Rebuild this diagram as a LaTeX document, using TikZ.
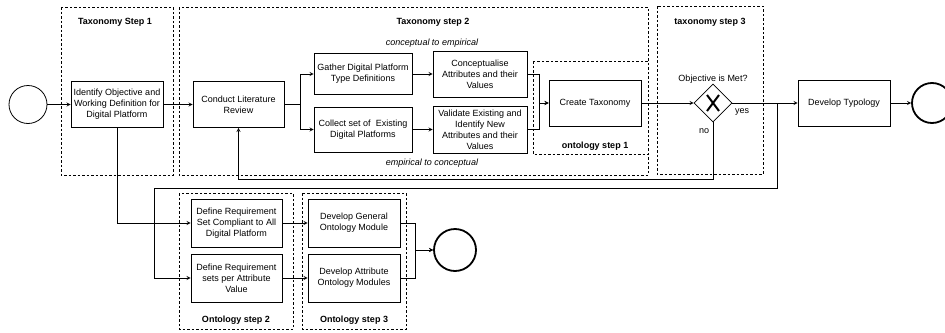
\documentclass[tikz,border=0pt]{standalone}
\usepackage{fontspec}
\setmainfont{Liberation Sans}
\usetikzlibrary{shapes.geometric}

\begin{document}
\begin{tikzpicture}[>=stealth, x=1pt, y=-1pt, line width=0.8pt,
  every node/.style={font=\fontsize{9}{11}\selectfont},
  task/.style={draw, fill=white, align=center, inner sep=1pt, minimum width=92pt, minimum height=46pt},
  group/.style={draw, dash pattern=on 2.5pt off 2pt, line width=0.6pt},
  grouptitle/.style={font=\fontsize{9}{11}\selectfont\bfseries},
  flowlabel/.style={font=\fontsize{9}{11}\selectfont\itshape},
  event/.style={draw, circle, minimum size=38pt, inner sep=0pt},
  endevent/.style={event, minimum size=40pt, line width=1.8pt},
  gateway/.style={draw, diamond, fill=white, minimum width=38pt, minimum height=38pt, inner sep=0pt}]
\useasboundingbox (0,0) rectangle (945,332);

% phases
\draw [group] (61,7) rectangle (173,175);
\draw [group] (179,7) rectangle (648,175);
\draw [group] (533,61) rectangle (648,154);
\draw [group] (657,6) rectangle (763,174);
\draw [group] (179,193) rectangle (293,329);
\draw [group] (302,193) rectangle (406,329);
\node (t1) at (115,22) [grouptitle] {Taxonomy Step 1};
\node (t2) at (433,22) [grouptitle] {Taxonomy step 2};
\node (o1) at (595,146) [grouptitle] {ontology step 1};
\node (t3) at (710,22) [grouptitle] {taxonomy step 3};
\node (o2) at (236,320) [grouptitle] {Ontology step 2};
\node (o3) at (354,320) [grouptitle] {Ontology step 3};

% taxonomy
\node (start)    at (28,104.5)    [event] {};
\node (ident)    at (117,104.5)   [task] {Identify Objective and\\Working Definition for\\Digital Platform};
\node (review)   at (238.5,104.5) [task, minimum width=91pt] {Conduct Literature\\Review};
\node (gather)   at (363,74)      [task, minimum width=98pt, minimum height=41pt] {Gather Digital Platform\\Type Definitions};
\node (collect)  at (363,129.5)   [task, minimum width=98pt, minimum height=45pt] {Collect set of \ Existing\\Digital Platforms};
\node (concept)  at (480,74)      [task, minimum width=94pt] {Conceptualise\\Attributes and their\\Values};
\node (validate) at (480,129.5)   [task, minimum width=94pt, minimum height=47pt] {Validate Existing and\\Identify New\\Attributes and their\\Values};
\node (taxo)     at (595,103)     [task] {Create Taxonomy};
\node (gate)     at (713,103)     [gateway] {};
\node (typo)     at (844,103)     [task] {Develop Typology};
\node (stop)     at (932,103)     [endevent] {};
\node (c2e) at (432,43)  [flowlabel] {conceptual to empirical};
\node (e2c) at (432,163) [flowlabel] {empirical to conceptual};
\node (met) at (713,79)  {Objective is Met?};
\node (yes) at (742,112) {yes};
\node (no)  at (704,131) {no};
\draw [line width=2pt] ([shift={(-6,-8)}]gate.center) -- ([shift={(6,8)}]gate.center);
\draw [line width=2pt] ([shift={(-6,8)}]gate.center) -- ([shift={(6,-8)}]gate.center);

% ontology
\node (reqall)  at (236.5,223) [task, minimum width=91pt, minimum height=48pt] {Define Requirement\\Set Compliant to All\\Digital Platform};
\node (reqattr) at (236.5,278) [task, minimum width=91pt, minimum height=48pt] {Define Requirement\\sets per Attribute\\Value};
\node (ontgen)  at (354,223)   [task, minimum height=48pt] {Develop General\\Ontology Module};
\node (ontattr) at (354,278)   [task, minimum height=48pt] {Develop Attribute\\Ontology Modules};
\node (stop2)   at (455,250)   [endevent, minimum size=42pt] {};

\coordinate (loop) at (713,179);
\coordinate (fork) at (777,103);
\coordinate (back) at (154,188);

\draw [->] (start) -- (ident);
\draw [->] (ident) -- (review);
\draw [->] (review.east) -- ++(16,0) |- (gather.west);
\draw [->] (review.east) -- ++(16,0) |- (collect.west);
\draw [->] (gather) -- (concept);
\draw [->] (collect) -- (validate);
\draw [->] (concept.east) -- ++(12,0) |- (taxo.west);
\draw [->] (validate.east) -- ++(12,0) |- (taxo.west);
\draw [->] (taxo) -- (gate);
\draw [->] (gate) -- (typo);
\draw [->] (typo) -- (stop);
\draw [->] (gate.south) -- (loop) -| (review.south);
\draw [->] (fork) |- (back) |- (reqattr.west);
\draw [->] (ident.south) |- (reqall.west);
\draw [->] (reqall) -- (ontgen);
\draw [->] (reqattr) -- (ontattr);
\draw [->] (ontgen.east) -- ++(15,0) |- (stop2.west);
\draw [->] (ontattr.east) -- ++(15,0) |- (stop2.west);
\end{tikzpicture}
\end{document}
